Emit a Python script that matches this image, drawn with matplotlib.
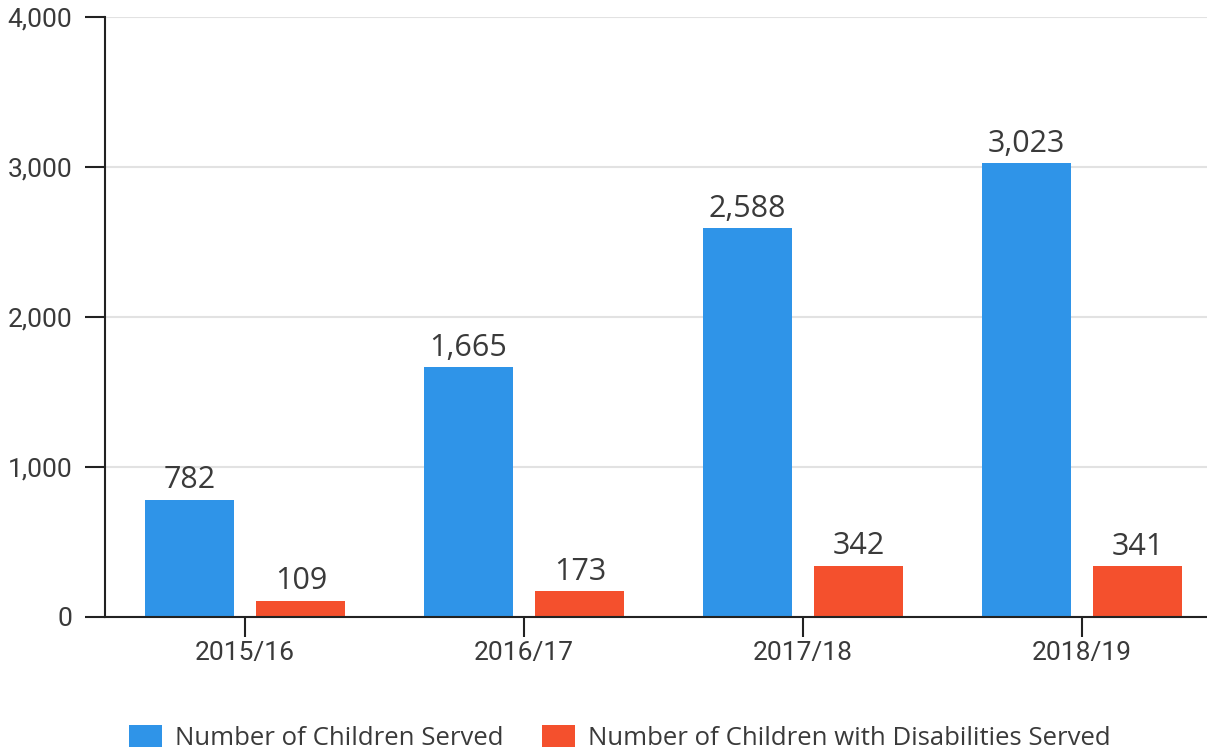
import matplotlib
matplotlib.use("Agg")
import matplotlib.pyplot as plt
from matplotlib.patches import Patch
import numpy as np

categories = ["2015/16", "2016/17", "2017/18", "2018/19"]
children_served = [782, 1665, 2588, 3023]
disabilities_served = [109, 173, 342, 341]
series_names = ["Number of Children Served", "Number of Children with Disabilities Served"]
y_ticks = [0, 1000, 2000, 3000, 4000]

BLUE = "#2F94E8"
RED = "#F4502D"
TEXT = "#3a3a3a"

fig = plt.figure(figsize=(12.07, 7.52), dpi=100)
ax = fig.add_axes([105 / 1207, (752 - 617) / 752, (1207 - 105) / 1207, (617 - 16.5) / 752])

x = np.arange(len(categories))
w = 0.32
off = 0.2
b1 = ax.bar(x - off, children_served, width=w, color=BLUE, zorder=3)
b2 = ax.bar(x + off, disabilities_served, width=w, color=RED, zorder=3)

for bars, vals in ((b1, children_served), (b2, disabilities_served)):
    for r, v in zip(bars, vals):
        ax.annotate(f"{v:,}", (r.get_x() + r.get_width() / 2, r.get_height()),
                    xytext=(0, 3), textcoords="offset points", ha="center", va="bottom",
                    fontsize=22, family="Open Sans", color=TEXT, zorder=4)

ax.set_xlim(-0.502, 3.448)
ax.set_ylim(0, 4000)
ax.set_yticks(y_ticks)
ax.set_yticklabels([f"{t:,}" for t in y_ticks])
ax.set_xticks(x)
ax.set_xticklabels(categories)

for lab in ax.get_xticklabels() + ax.get_yticklabels():
    lab.set_family("Roboto")
    lab.set_fontsize(19)
    lab.set_color(TEXT)

ax.tick_params(axis="y", length=14.5, width=1.5, pad=9, color="#222222")
ax.tick_params(axis="x", length=14.5, width=1.5, pad=3, color="#222222")

ax.grid(axis="y", color="#e2e2e2", linewidth=1.5, zorder=0)
ax.set_axisbelow(True)
for s in ("top", "right"):
    ax.spines[s].set_visible(False)
for s in ("left", "bottom"):
    ax.spines[s].set_linewidth(1.5)
    ax.spines[s].set_color("#222222")
    ax.spines[s].set_zorder(5)

handles = [Patch(facecolor=BLUE, edgecolor="none"), Patch(facecolor=RED, edgecolor="none")]
leg = fig.legend(handles, series_names, loc="center", bbox_to_anchor=(620 / 1207, 1 - 738 / 752),
                 ncol=2, frameon=False, prop={"family": "Open Sans", "size": 18.5},
                 handlelength=1.29, handleheight=0.97, handletextpad=0.5, columnspacing=1.5,
                 borderpad=0, borderaxespad=0)
for t in leg.get_texts():
    t.set_color(TEXT)

fig.savefig("out.png", dpi=100, facecolor="white")
